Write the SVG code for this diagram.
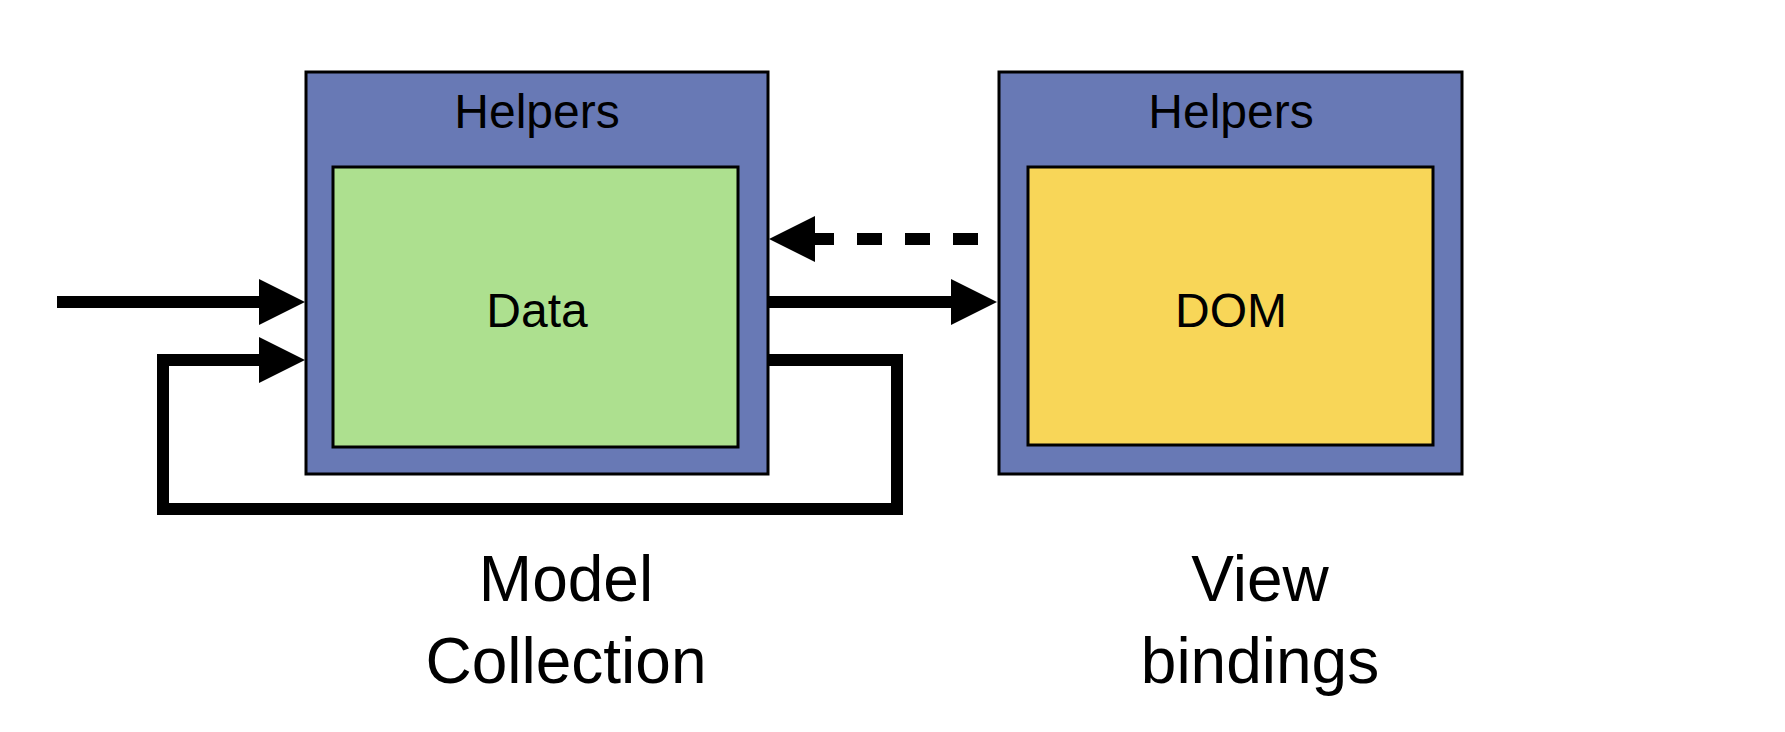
<svg xmlns="http://www.w3.org/2000/svg" width="1785" height="732" viewBox="0 0 1785 732">
<style>
.outer{fill:#6879b5;stroke:#000;stroke-width:3}
.inner{stroke:#000;stroke-width:3}
.lbl{font-family:"Liberation Sans",Arial,sans-serif;fill:#000;text-anchor:middle}
.conn{fill:none;stroke:#000;stroke-width:12}
</style>
<defs>
<marker id="ah" viewBox="0 0 46 46" refX="8" refY="23" markerWidth="46" markerHeight="46" markerUnits="userSpaceOnUse" orient="auto">
<path d="M0,0 L46,23 L0,46 z" fill="#000"/>
</marker>
</defs>
<rect width="1785" height="732" fill="#fff"/>
<g id="model">
<rect class="outer" x="306" y="72" width="462" height="402"/>
<text class="lbl" x="537" y="128" font-size="48">Helpers</text>
<rect class="inner" x="333" y="167" width="405" height="280" fill="#ade08f"/>
<text class="lbl" x="537" y="327" font-size="48">Data</text>
</g>
<g id="view">
<rect class="outer" x="999" y="72" width="463" height="402"/>
<text class="lbl" x="1231" y="128" font-size="48">Helpers</text>
<rect class="inner" x="1028" y="167" width="405" height="278" fill="#f8d658"/>
<text class="lbl" x="1231" y="327" font-size="48">DOM</text>
</g>
<g id="model-label">
<text class="lbl" x="566" y="601" font-size="64">Model</text>
<text class="lbl" x="566" y="683" font-size="64">Collection</text>
</g>
<g id="view-label">
<text class="lbl" x="1260" y="601" font-size="64">View</text>
<text class="lbl" x="1260" y="683" font-size="64">bindings</text>
</g>
<g id="connectors">
<path class="conn" d="M57,302 H267" marker-end="url(#ah)"/>
<path class="conn" d="M768,360 H897 V509 H163 V360 H267" stroke-linejoin="miter" marker-end="url(#ah)"/>
<path class="conn" d="M769,302 H959" marker-end="url(#ah)"/>
<path class="conn" d="M978,239 H807" stroke-dasharray="25 23" marker-end="url(#ah)"/>
</g>
</svg>
